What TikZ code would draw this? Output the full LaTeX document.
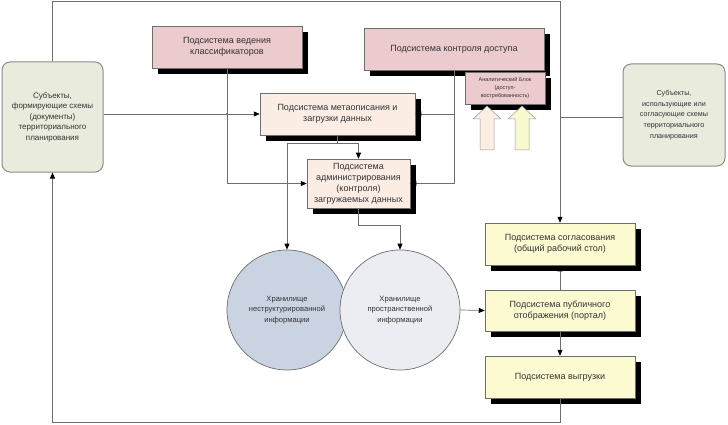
\documentclass[tikz,border=0pt]{standalone}
\usepackage{fontspec}
\setmainfont{Liberation Sans}
\usetikzlibrary{arrows.meta,calc,backgrounds}
\definecolor{pinkbox}{HTML}{EBCBCD}
\definecolor{peachbox}{HTML}{FBEDE4}
\definecolor{yellowbox}{HTML}{FCFAD0}
\definecolor{subjbox}{HTML}{E9EBDC}
\definecolor{bluecirc}{HTML}{C9D3E2}
\definecolor{greycirc}{HTML}{ECEDF2}
\definecolor{peacharr}{HTML}{FCEEE2}
\definecolor{yellarr}{HTML}{F8F9CE}
\definecolor{txt}{HTML}{333333}
\definecolor{lin}{HTML}{6E6E6E}
\definecolor{shad}{rgb}{0,0,0}
\begin{document}
\begin{tikzpicture}[x=1pt,y=-1pt,
  base/.style={align=center, text=txt, font=\fontsize{8}{10.5}\selectfont, inner sep=2pt},
  sbox/.style={base, draw=lin, line width=0.5pt, font=\fontsize{9}{11}\selectfont},
  subj/.style={base, draw=lin!80, line width=1pt, rounded corners=8pt, fill=subjbox},
  store/.style={base, circle, draw=lin, line width=0.7pt, minimum size=120pt,
    font=\fontsize{7.6}{10.5}\selectfont},
  conn/.style={draw=lin, line width=0.7pt},
  arr/.style={conn, -{Triangle[length=6pt,width=5pt,color=black]}},
  blockarr/.style={draw=lin!70, line width=0.5pt}
]
\useasboundingbox (0,0) rectangle (728,425);

% subjects
\node[subj, minimum width=101pt, minimum height=110pt] (subjL) at (52.5,117)
  {Субъекты,\\формирующие схемы\\(документы)\\территориального\\планирования};
\node[subj, minimum width=102pt, minimum height=102pt, font=\fontsize{7.2}{10.8}\selectfont] (subjR) at (674,115)
  {Субъекты,\\использующие или\\согласующие схемы\\территориального\\планирования};

% subsystems
\node[sbox, fill=pinkbox, minimum width=150pt, minimum height=42pt] (klass) at (227,47)
  {Подсистема ведения\\классификаторов};
\node[sbox, fill=pinkbox, minimum width=180pt, minimum height=42pt] (acc) at (454,49)
  {Подсистема контроля доступа};
\node[sbox, fill=peachbox, minimum width=155pt, minimum height=42pt] (meta) at (337.5,114)
  {Подсистема метаописания и\\загрузки данных};
\node[sbox, fill=peachbox, minimum width=103pt, minimum height=49pt] (adm) at (358.5,183.5)
  {Подсистема\\администрирования\\(контроля)\\загружаемых данных};
\node[sbox, fill=yellowbox, minimum width=150pt, minimum height=42pt] (appr) at (560,244)
  {Подсистема согласования\\(общий рабочий стол)};
\node[sbox, fill=yellowbox, minimum width=150pt, minimum height=41pt] (portal) at (560,310.5)
  {Подсистема публичного\\отображения (портал)};
\node[sbox, fill=yellowbox, minimum width=150pt, minimum height=42pt] (exp) at (560,377)
  {Подсистема выгрузки};

% solid black shadows behind the boxes
\begin{scope}[on background layer]
  \foreach \b in {klass,acc,meta,adm,appr,portal,exp}{
    \fill[shad] ($(\b.south west)+(6,6)$) rectangle ($(\b.north east)+(6,6)$);
  }
\end{scope}

% analytic block (lies over the shadow of the access box)
\coordinate (analS) at (471,78);
\fill[shad] (analS) rectangle ++(80,32);
\node[sbox, fill=pinkbox, minimum width=80pt, minimum height=32pt,
  font=\fontsize{5.5}{8}\selectfont] (anal) at (505,88)
  {Аналитический Блок\\(доступ-\\востребованность)};

% stores
\node[store, fill=bluecirc] (unstr) at (287,310)
  {Хранилище\\неструктурированной\\информации};
\node[store, fill=greycirc] (spat) at (400,310)
  {Хранилище\\пространственной\\информации};

% block arrows under analytic block
\coordinate (u1) at (487,106);
\coordinate (u2) at (522,106);
\filldraw[blockarr, fill=peacharr] (u1) -- ++(14,13) -- ++(-7,0) -- ++(0,31) -- ++(-14,0) -- ++(0,-31) -- ++(-7,0) -- cycle;
\filldraw[blockarr, fill=yellarr] (u2) -- ++(14,13) -- ++(-7,0) -- ++(0,31) -- ++(-14,0) -- ++(0,-31) -- ++(-7,0) -- cycle;

% connectors
\draw[arr] (subjL.east |- meta.west) -- (meta.west);
\draw[arr] (klass.south) |- (adm.west);
\fill[lin] (klass.south |- meta.west) circle (1.2pt);

\draw[conn] (acc.south) -- (acc.south |- adm.east);
\draw[arr] (acc.south |- meta.east) -- (meta.east);
\draw[arr] (acc.south |- adm.east) -- (adm.east);

\coordinate (m1) at (meta.south |- 0,143);
\draw[conn] (meta.south) -- (m1);
\draw[arr] (m1) -| (adm.north);
\draw[arr] (m1) -| (unstr.north);

\coordinate (a1) at (adm.south |- 0,225);
\draw[arr] (adm.south) -- (a1) -| (spat.north);

\draw[arr] (spat.east) -- (portal.west);
\draw[arr] (portal.north) -- (appr.south);
\draw[arr] (portal.south) -- (exp.north);

\coordinate (tl) at (subjL.north |- 0,1.5);
\draw[arr] (subjL.north) -- (tl) -| (appr.north);
\draw[conn] (subjR.west |- 0,117) -- (appr.north |- 0,117);

\coordinate (bl) at (exp.south |- 0,422.5);
\draw[arr] (exp.south) -- (bl) -| (subjL.south);
\end{tikzpicture}
\end{document}
